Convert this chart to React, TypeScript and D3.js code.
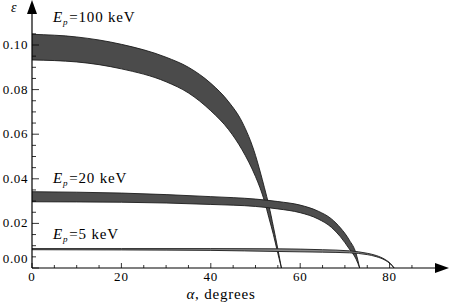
import React, { useEffect, useRef } from "react";
import * as d3 from "d3";

// angle (degrees) and epsilon edges of each band
const alpha100 = [0, 10, 20, 30, 35, 40, 44, 47, 50, 51, 52, 53, 54, 55, 55.8];
const upper100 = [0.1048, 0.1036, 0.1003, 0.0945, 0.09, 0.0828, 0.0745, 0.0655, 0.0505, 0.0435, 0.036, 0.028, 0.0185, 0.0085, 0];
const lower100 = [0.0933, 0.0924, 0.0893, 0.0835, 0.0785, 0.0705, 0.062, 0.053, 0.041, 0.036, 0.03, 0.0225, 0.015, 0.0065, 0];

const alpha20 = [0, 20, 40, 50, 55, 60, 64, 67, 69, 71, 72.5, 73.3];
const upper20 = [0.0342, 0.0336, 0.032, 0.0309, 0.0298, 0.0282, 0.0255, 0.022, 0.018, 0.0125, 0.0065, 0];
const lower20 = [0.0297, 0.0295, 0.0285, 0.0276, 0.0265, 0.0248, 0.022, 0.0182, 0.014, 0.0085, 0.004, 0];

const alpha5 = [0, 20, 40, 55, 65, 71, 75, 77, 79, 80.2, 81];
const upper5 = [0.0087, 0.0087, 0.0087, 0.0086, 0.0082, 0.0077, 0.0066, 0.0056, 0.0038, 0.002, 0];
const lower5 = [0.0082, 0.0081, 0.0079, 0.0074, 0.0071, 0.0068, 0.006, 0.0051, 0.0035, 0.0018, 0];

const xTicks = [0, 20, 40, 60, 80];
const yTicks = [0.0, 0.02, 0.04, 0.06, 0.08, 0.1];
const bandLabels = ["=100 keV", "=20 keV", "=5 keV"];

const FONT = "Liberation Serif, Times New Roman, serif";

function App() {
  const ref = useRef<SVGSVGElement>(null);

  useEffect(() => {
    const svg = d3.select(ref.current);
    svg.selectAll("*").remove();

    const x = d3.scaleLinear().domain([0, 80]).range([32, 389.6]);
    const y = d3.scaleLinear().domain([0, 0.1]).range([268, 45]);

    const bands = [
      { a: alpha100, up: upper100, lo: lower100, fill: "#4b4b4b", label: bandLabels[0], ly: 22 },
      { a: alpha20, up: upper20, lo: lower20, fill: "#4e4e4e", label: bandLabels[1], ly: 183 },
      { a: alpha5, up: upper5, lo: lower5, fill: "#8a8a8a", label: bandLabels[2], ly: 239 },
    ];

    const g = svg.append("g");

    bands.forEach((b) => {
      const pts = b.a.map((d, i) => ({ a: d, up: b.up[i], lo: b.lo[i] }));
      const area = d3
        .area<any>()
        .x((d) => x(d.a))
        .y0((d) => y(d.lo))
        .y1((d) => y(d.up))
        .curve(d3.curveMonotoneX);
      g.append("path").attr("d", area(pts)).attr("fill", b.fill);

      const lineUp = d3.line<any>().x((d) => x(d.a)).y((d) => y(d.up)).curve(d3.curveMonotoneX);
      const lineLo = d3.line<any>().x((d) => x(d.a)).y((d) => y(d.lo)).curve(d3.curveMonotoneX);
      [lineUp, lineLo].forEach((ln) => {
        g.append("path")
          .attr("d", ln(pts))
          .attr("fill", "none")
          .attr("stroke", "#1c1c1c")
          .attr("stroke-width", 0.9);
      });

      // band label: E_p =... keV
      const t = svg
        .append("text")
        .attr("x", 53)
        .attr("y", b.ly)
        .style("font-family", FONT)
        .attr("font-size", 15)
        .attr("letter-spacing", 0.8)
        .attr("fill", "#000");
      t.append("tspan").attr("font-style", "italic").text("E");
      t.append("tspan")
        .attr("font-style", "italic")
        .attr("font-size", 9)
        .attr("dy", 3)
        .text("p");
      t.append("tspan").attr("dy", -3).attr("dx", 1).text(b.label);
    });

    // axes
    const axis = svg.append("g").attr("stroke", "#000").attr("stroke-width", 1.2);
    axis.append("line").attr("x1", 32).attr("x2", 438).attr("y1", 268).attr("y2", 268);
    axis.append("line").attr("x1", 32).attr("x2", 32).attr("y1", 268).attr("y2", 12);
    svg.append("path").attr("d", "M449,268 L435,263 L435,273 Z").attr("fill", "#000");
    svg.append("path").attr("d", "M32,0 L27,14 L37,14 Z").attr("fill", "#000");

    // x ticks
    d3.range(0, 90, 5).forEach((v) => {
      const major = v % 20 === 0;
      axis
        .append("line")
        .attr("x1", x(v))
        .attr("x2", x(v))
        .attr("y1", 268)
        .attr("y2", 268 - (major ? 5 : 3))
        .attr("stroke-width", 0.8);
    });
    svg
      .selectAll(".xl")
      .data(xTicks)
      .join("text")
      .attr("x", (d) => x(d))
      .attr("y", 281)
      .attr("text-anchor", "middle")
      .style("font-family", FONT)
      .attr("font-size", 13)
      .attr("letter-spacing", 0.8)
      .text((d) => String(d));

    // y ticks
    d3.range(0, 0.1051, 0.005).forEach((v) => {
      const major = Math.round(v * 1000) % 20 === 0;
      axis
        .append("line")
        .attr("x1", 32)
        .attr("x2", 32 + (major ? 7 : 4))
        .attr("y1", y(v))
        .attr("y2", y(v))
        .attr("stroke-width", 0.8);
    });
    svg
      .selectAll(".yl")
      .data(yTicks)
      .join("text")
      .attr("x", 28)
      .attr("y", (d) => (d === 0 ? y(d) - 5 : y(d) + 4))
      .attr("text-anchor", "end")
      .style("font-family", FONT)
      .attr("font-size", 13)
      .attr("letter-spacing", 0.6)
      .text((d) => d3.format(".2f")(d));

    // axis titles
    svg
      .append("text")
      .attr("x", 11)
      .attr("y", 12)
      .style("font-family", FONT)
      .attr("font-style", "italic")
      .attr("font-size", 14)
      .text("ε");
    const xt = svg
      .append("text")
      .attr("x", 221)
      .attr("y", 299)
      .attr("text-anchor", "middle")
      .style("font-family", FONT)
      .attr("font-size", 15)
      .attr("letter-spacing", 0.8);
    xt.append("tspan").attr("font-style", "italic").text("α");
    xt.append("tspan").text(", degrees");
  }, []);

  return (
    <svg
      ref={ref}
      width={450}
      height={306}
      style={{ position: "absolute", left: 0, top: 0, background: "#fff" }}
    />
  );
}

export default App;
